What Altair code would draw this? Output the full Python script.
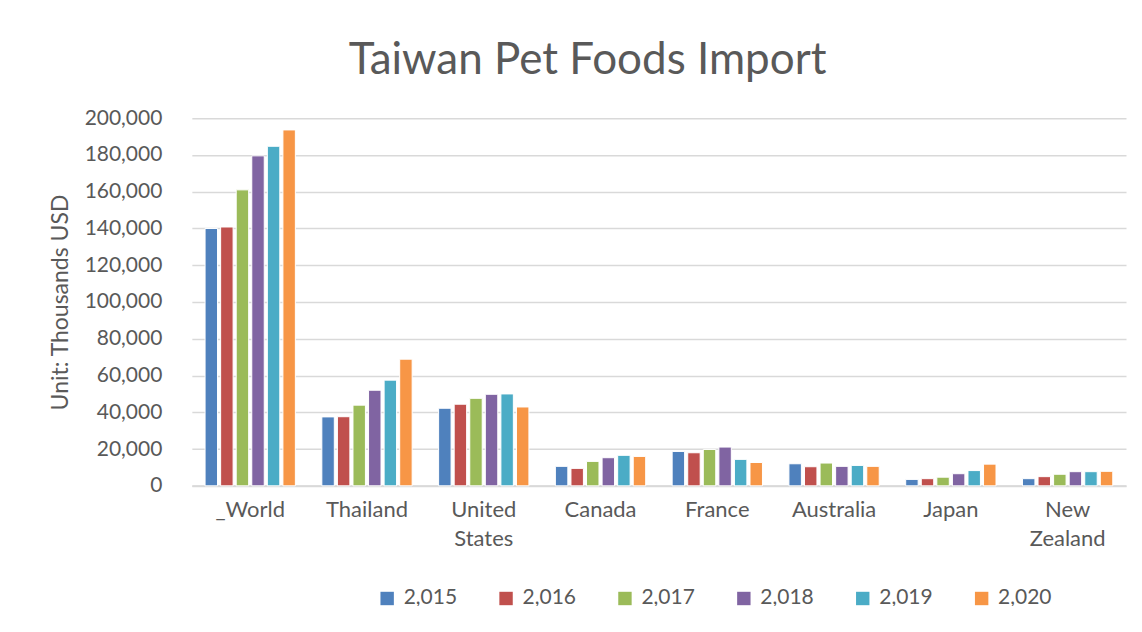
import altair as alt
import pandas as pd

countries = ["_World", "Thailand", "United States", "Canada", "France", "Australia", "Japan", "New Zealand"]
years = [2015, 2016, 2017, 2018, 2019, 2020]
colors = ["#4F81BD", "#C0504D", "#9BBB59", "#8064A2", "#4BACC6", "#F79646"]

v2015 = [140000, 37500, 42200, 10600, 18700, 12000, 3500, 3900]
v2016 = [140800, 37600, 44400, 9500, 18000, 10400, 3900, 5000]
v2017 = [161000, 43900, 47600, 13300, 19800, 12400, 4700, 6300]
v2018 = [179500, 52000, 49800, 15300, 21100, 10600, 6600, 7700]
v2019 = [184700, 57500, 50000, 16600, 14400, 11100, 8300, 7700]
v2020 = [193600, 68900, 42900, 16000, 12700, 10600, 11800, 7900]

series = [v2015, v2016, v2017, v2018, v2019, v2020]
rows = []
for y, vals in zip(years, series):
    for c, v in zip(countries, vals):
        rows.append({"country": c, "year": y, "value": v})
df = pd.DataFrame(rows)

FONT = "Lato"
GREY = "#595959"

chart = alt.Chart(df).mark_bar(stroke="white", strokeWidth=1).encode(
    x=alt.X("country:N", sort=countries,
            scale=alt.Scale(paddingInner=0.2, paddingOuter=0.1),
            axis=alt.Axis(title=None, labelAngle=0, ticks=False,
                          domainColor="#D9D9D9", domainWidth=2,
                          labelFontSize=22, labelColor=GREY, labelFont=FONT,
                          labelPadding=14, labelLineHeight=29,
                          labelExpr="split(datum.label, ' ')")),
    xOffset=alt.XOffset("year:N", scale=alt.Scale(paddingInner=0.2, paddingOuter=0.1)),
    y=alt.Y("value:Q", scale=alt.Scale(domain=[0, 200000], nice=False),
            axis=alt.Axis(title="Unit: Thousands USD", values=list(range(0, 200001, 20000)),
                          format=",.0f", domain=False, ticks=False,
                          gridColor="#D9D9D9", gridWidth=1.5,
                          labelFontSize=21, labelColor=GREY, labelFont=FONT,
                          labelPadding=30, titleFontSize=23, titleColor=GREY,
                          titleFont=FONT, titleFontWeight="normal", titlePadding=12)),
    color=alt.Color("year:N", scale=alt.Scale(domain=years, range=colors),
                    legend=alt.Legend(title=None, orient="none", legendX=185, legendY=470,
                                      direction="horizontal",
                                      symbolType="square", symbolSize=180,
                                      symbolStrokeWidth=0, labelFontSize=21,
                                      labelColor=GREY, labelFont=FONT, labelOffset=6,
                                      columnPadding=38, labelLimit=200,
                                      labelExpr="format(toNumber(datum.value), ',')")),
).properties(
    width=935, height=368,
    title=alt.TitleParams("Taiwan Pet Foods Import", fontSize=44, color=GREY, font=FONT,
                          fontWeight="normal", anchor="middle", frame="bounds",
                          offset=24),
    autosize=alt.AutoSizeParams(type="none"),
    padding={"left": 184, "top": 110, "right": 8, "bottom": 120},
).configure_view(stroke=None)

chart.save("out.html", embed_options={"renderer": "svg", "actions": False})
